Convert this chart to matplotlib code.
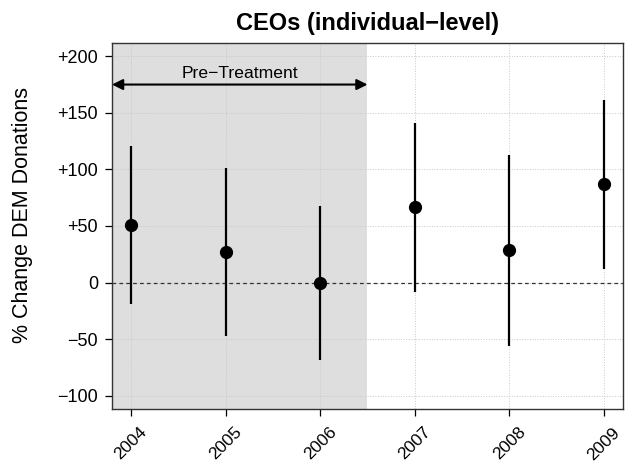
import matplotlib
matplotlib.use("Agg")
import matplotlib.pyplot as plt

plt.rcParams['font.family'] = ['Liberation Sans', 'DejaVu Sans']

# Estimates and 95% intervals
years = [2004, 2005, 2006, 2007, 2008, 2009]
estimates = [50.5, 27, 0, 66.5, 28.5, 87]
ci_low = [-19, -47.5, -68, -8, -56, 12]
ci_high = [121, 101.5, 68, 141, 113, 161]

yticks = [-100, -50, 0, 50, 100, 150, 200]
ytick_labels = ["\u2212100", "\u221250", "0", "+50", "+100", "+150", "+200"]

fig = plt.figure(figsize=(6.31, 4.66), dpi=100)
ax = fig.add_axes([0.1775, 0.1217, 0.8098, 0.7867])

ax.set_xlim(2003.8, 2009.2)
ax.set_ylim(-112, 212)

# Pre-treatment shading
ax.axvspan(2003.8, 2006.5, color="#DEDEDE", zorder=0, lw=0)

# grid
for yr in years:
    ax.axvline(yr, color="#C8C8C8", lw=0.7, ls=":", zorder=1)
for t in yticks:
    ax.axhline(t, color="#C8C8C8", lw=0.7, ls=":", zorder=1)

ax.axhline(0, color="#333333", lw=0.9, ls=(0, (3, 2.5)), zorder=2)

# intervals + points
ax.vlines(years, ci_low, ci_high, color="black", lw=1.6, zorder=3)
ax.plot(years, estimates, "o", color="black", markersize=8.5, zorder=4)

# arrow and label
ax.annotate("", xy=(2003.8, 175), xytext=(2006.5, 175),
            arrowprops=dict(arrowstyle="<|-|>", color="black", lw=1.5,
                            mutation_scale=16, shrinkA=0, shrinkB=0))
ax.text((2003.8 + 2006.5) / 2, 185, "Pre\u2212Treatment", ha="center",
        va="center", fontsize=12.6)

ax.set_xticks(years)
ax.set_xticklabels([str(y) for y in years], rotation=45, fontsize=12.6)
ax.set_yticks(yticks)
ax.set_yticklabels(ytick_labels, fontsize=13)
ax.tick_params(direction="out", length=5, width=0.9, pad=5)
ax.tick_params(axis="x", pad=6)

for s in ax.spines.values():
    s.set_color("#333333")
    s.set_linewidth(1.0)

ax.set_ylabel("% Change DEM Donations", fontsize=15.5, va="center")
ax.yaxis.set_label_coords(-0.175, 0.53)
ax.set_title("CEOs (individual\u2212level)", fontsize=17, fontweight="bold", pad=9)

fig.savefig("out.png", dpi=100)
